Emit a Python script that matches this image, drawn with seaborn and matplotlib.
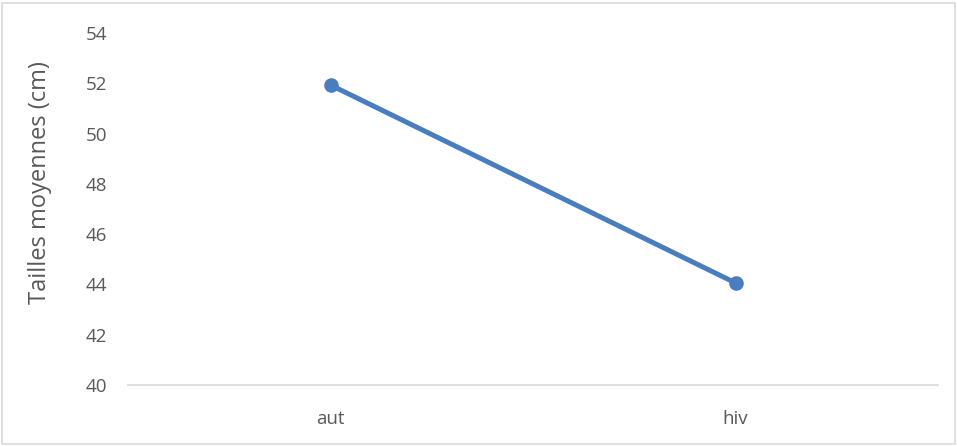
import matplotlib
matplotlib.use("Agg")
import matplotlib.pyplot as plt
from matplotlib.patches import Rectangle
import seaborn as sns
import pandas as pd

# Mean sizes per season
saisons = ["aut", "hiv"]
tailles = [51.93, 44.06]
y_ticks = [40, 42, 44, 46, 48, 50, 52, 54]

sns.set_theme(style="white")
plt.rcParams["font.family"] = ["Open Sans", "DejaVu Sans"]

df = pd.DataFrame({"saison": saisons, "taille": tailles})

fig = plt.figure(figsize=(9.57, 4.46), dpi=100)
ax = fig.add_axes([128 / 957, 1 - 385 / 446, 810 / 957, 352 / 446])

sns.lineplot(data=df, x="saison", y="taille", ax=ax, color="#4A7DBE",
             linewidth=3.6, marker="o", markersize=10.5,
             markeredgewidth=0, sort=False)

ax.set_xlim(-0.5, 1.5)
ax.set_ylim(40, 54)
ax.set_yticks(y_ticks)
ax.set_xlabel("")
ax.set_ylabel("Tailles moyennes (cm)", fontsize=17, color="#595959")
ax.yaxis.set_label_coords(-0.109, 0.574)
ax.yaxis.label.set_verticalalignment("center")

for side in ["top", "right", "left"]:
    ax.spines[side].set_visible(False)
ax.spines["bottom"].set_color("#D9D9D9")
ax.spines["bottom"].set_linewidth(1.2)
ax.tick_params(axis="both", length=0, labelsize=13.5, colors="#595959")
ax.tick_params(axis="y", pad=15)
ax.tick_params(axis="x", pad=18)

# chart-area frame
fig.patches.append(Rectangle((2 / 957, 2 / 446), 953 / 957, 441 / 446,
                             transform=fig.transFigure, fill=False,
                             edgecolor="#D9D9D9", linewidth=1.2))

fig.savefig("out.png", dpi=100)
